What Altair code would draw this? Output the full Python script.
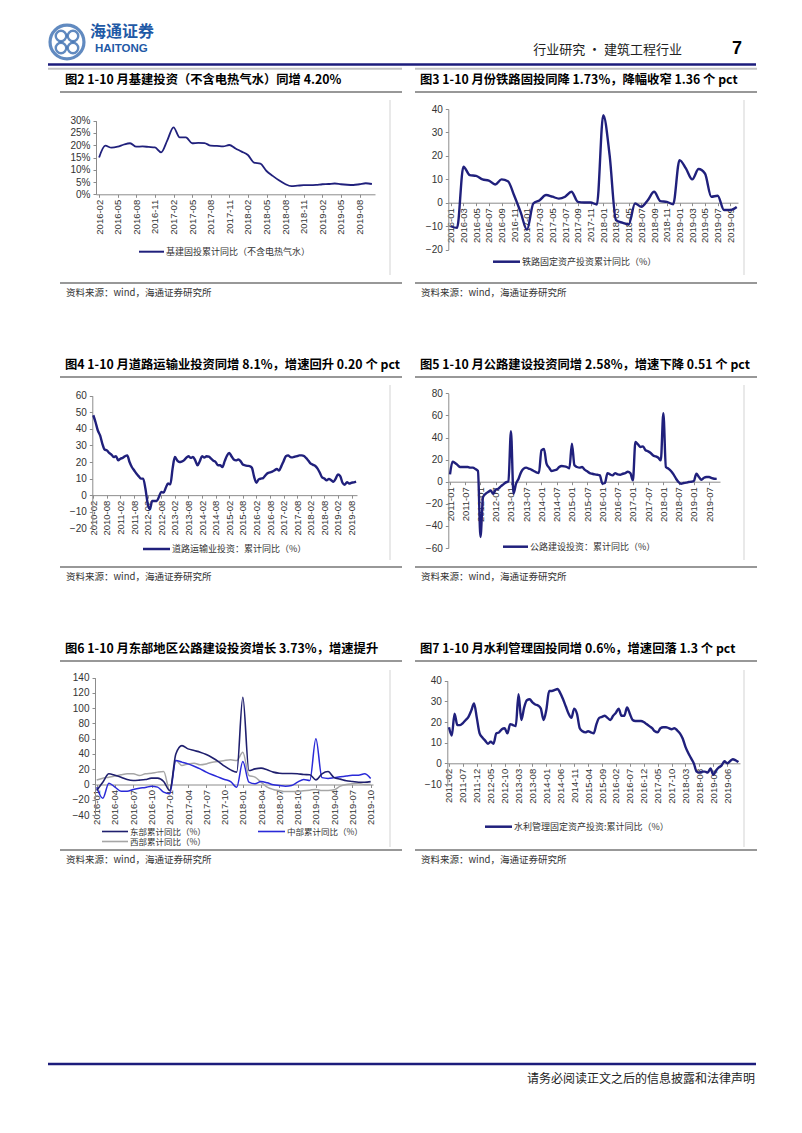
import altair as alt
import pandas as pd

CJK = "Noto Sans CJK SC"
LAT = "Liberation Sans"
NAVY = "#20207c"
BLUE_HDR = "#1c1c7c"
LOGO = "#1f5aa6"
AX = "#8c8c8c"
LB = "#333333"

# ---------------- data ----------------
# Fig 2: infrastructure FAI cumulative YoY (%), monthly from 2016-02
START2 = "2016-02"
VAL2 = [15.0, 19.8, 19.0, 19.4, 20.3, 20.8, 19.4, 19.5, 19.3, 19.1, 17.1, 22.0,
        27.3, 23.2, 23.2, 20.8, 21.0, 20.9, 19.8, 19.7, 19.5, 20.1, 18.7, 17.4,
        16.0, 12.9, 12.5, 9.5, 7.5, 5.7, 4.2, 3.3, 3.5, 3.7, 3.7, 3.8,
        4.1, 4.2, 4.4, 4.1, 3.9, 3.8, 4.1, 4.5, 4.2]
TICKS2 = ["2016-02", "2016-05", "2016-08", "2016-11", "2017-02", "2017-05", "2017-08",
          "2017-11", "2018-02", "2018-05", "2018-08", "2018-11", "2019-02", "2019-05", "2019-08"]
YT2 = [0, 5, 10, 15, 20, 25, 30]

# Fig 3: railway FAI cumulative YoY (%), from 2016-01
START3 = "2016-01"
VAL3 = [-10.0, -10.7, 15.4, 11.8, 11.5, 10.0, 9.5, 7.8, 10.0, 9.2, 3.0, -4.0,
        -11.5, -0.3, 1.1, 3.3, 2.6, 1.8, 2.6, 4.7, 0.4, 0.1, 0.1, -0.7,
        37.4, 20.3, -7.4, -8.5, -9.2, -0.3, -1.7, 1.1, 4.7, 0.7, 0.4, -0.6,
        18.2, 14.7, 10.0, 14.4, 12.5, 2.6, 3.0, -3.1, -3.1, -1.8]
TICKS3 = ["2016-01", "2016-03", "2016-05", "2016-07", "2016-09", "2016-11", "2017-01",
          "2017-03", "2017-05", "2017-07", "2017-09", "2017-11", "2018-01", "2018-03",
          "2018-05", "2018-07", "2018-09", "2018-11", "2019-01", "2019-03", "2019-05",
          "2019-07", "2019-09"]
YT3 = [-20, -10, 0, 10, 20, 30, 40]

# Fig 4: road transport investment cumulative YoY (%), from 2010-02
START4 = "2010-02"
VAL4 = [48.2, 44.0, 39.0, 36.0, 31.0, 27.5, 27.0, 25.5, 24.5, 23.0, 23.5, 21.0,
        22.0, 22.5, 23.5, 24.0, 20.0, 17.0, 15.0, 13.0, 11.5, 10.0, 10.0, 4.0,
        -5.0, -8.5, -3.5, -3.5, -3.5, -1.0, 2.0, 1.5, 4.5, 7.0, 6.5, 16.0,
        23.0, 21.0, 20.0, 20.3, 21.0, 22.5, 23.5, 22.5, 23.0, 21.0, 18.0, 20.5,
        23.5, 22.7, 23.5, 23.2, 22.0, 20.8, 20.0, 18.0, 18.0, 17.0, 20.5, 23.8,
        25.5, 23.5, 21.5, 21.0, 21.5, 20.5, 18.5, 18.0, 17.7, 17.5, 16.5, 11.0,
        7.5, 9.5, 10.0, 10.3, 12.0, 13.3, 13.7, 14.2, 15.0, 15.8, 14.8, 17.5,
        20.5, 23.5, 24.0, 23.0, 22.8, 23.2, 23.6, 24.0, 24.0, 23.6, 22.3, 20.7,
        19.0, 18.3, 17.6, 16.0, 13.5, 10.7, 10.0, 9.0, 9.8, 9.0, 8.0, 10.0,
        12.5, 11.5, 7.5, 6.3, 7.8, 7.0, 7.5, 7.7, 8.1]
TICKS4 = ["2010-02", "2010-08", "2011-02", "2011-08", "2012-02", "2012-08", "2013-02",
          "2013-08", "2014-02", "2014-08", "2015-02", "2015-08", "2016-02", "2016-08",
          "2017-02", "2017-08", "2018-02", "2018-08", "2019-02", "2019-08"]
YT4 = [-20, -10, 0, 10, 20, 30, 40, 50, 60]

# Fig 5: highway construction investment cumulative YoY (%), from 2011-01
START5 = "2011-01"
VAL5 = [6.6, 18.0, 17.0, 15.0, 13.3, 13.3, 13.3, 13.3, 12.7, 12.7, 11.5, 9.7,
        -50.0, -14.0, -11.0, -9.4, -8.0, -11.0, -7.2, -6.3, -4.2, -2.4, -0.6, 0.3,
        45.7, -11.0, -1.8, 2.7, 8.7, 11.8, 12.7, 11.8, 10.9, 9.7, 8.4, 7.8,
        28.4, 29.6, 16.3, 12.7, 9.7, 10.3, 10.9, 13.3, 14.2, 13.9, 13.3, 12.1,
        34.4, 14.8, 13.3, 12.7, 13.3, 10.9, 9.4, 7.8, 7.2, 6.6, 6.3, 5.7,
        -1.8, -1.2, 7.8, 6.6, 5.7, 7.8, 6.6, 6.3, 7.2, 7.8, 9.0, 7.8,
        1.2, 35.9, 33.8, 31.4, 32.0, 28.4, 27.5, 26.0, 23.8, 22.9, 21.7, 19.3,
        62.0, 13.3, 11.8, 9.7, 6.6, 2.7, -0.3, -1.8, -1.2, -0.9, -0.3, 0.0,
        0.6, 7.2, 4.2, 1.8, 3.6, 4.2, 4.2, 3.3, 2.7, 2.58]
TICKS5 = ["2011-01", "2011-07", "2012-01", "2012-07", "2013-01", "2013-07", "2014-01",
          "2014-07", "2015-01", "2015-07", "2016-01", "2016-07", "2017-01", "2017-07",
          "2018-01", "2018-07", "2019-01", "2019-07"]
YT5 = [-60, -40, -20, 0, 20, 40, 60, 80]

# Fig 6: regional highway investment cumulative YoY (%), from 2016-01
START6 = "2016-01"
EAST6 = [-8.0, 3.0, 14.0, 12.0, 9.6, 6.5, 5.2, 5.7, 6.5, 8.3, 8.3, 3.9,
         -8.0, 40.0, 51.0, 46.7, 44.5, 42.4, 39.3, 35.0, 30.0, 24.0, 19.2, 16.2,
         114.4, 18.3, 20.5, 21.4, 19.2, 16.2, 14.8, 14.4, 14.4, 14.0, 13.1, 12.7,
         6.0, 14.0, 17.0, 9.0, 7.0, 5.0, 4.0, 3.0, 3.0, 3.73]
MID6 = [-3.5, -18.0, 1.7, -3.5, -8.7, -8.7, -6.5, -4.8, -3.9, -2.2, -3.5, -10.0,
        -12.0, 31.4, 29.3, 27.0, 24.0, 20.5, 16.2, 12.7, 9.6, 6.6, 3.9, -3.5,
        30.0, 3.0, 0.9, 3.9, 2.2, -0.4, -1.3, -2.2, -1.3, 3.0, 6.5, 5.2,
        60.0, 9.0, 8.0, 9.0, 10.0, 11.0, 12.0, 12.0, 14.0, 8.0]
WEST6 = [6.0, 8.3, 9.6, 11.0, 12.7, 14.0, 14.0, 11.8, 14.0, 14.8, 16.2, 17.0,
         -8.0, 31.4, 25.0, 27.0, 28.0, 25.8, 27.0, 29.3, 30.0, 31.4, 32.3, 31.4,
         42.4, 11.8, 9.6, 3.0, -3.5, -6.5, -7.9, -9.2, -9.2, -9.2, -8.3, -7.4,
         -6.5, -7.9, -7.9, -7.0, -2.2, 0.0, 0.9, 1.7, 0.0, 0.0]
TICKS6 = ["2016-01", "2016-04", "2016-07", "2016-10", "2017-01", "2017-04", "2017-07",
          "2017-10", "2018-01", "2018-04", "2018-07", "2018-10", "2019-01", "2019-04",
          "2019-07", "2019-10"]
YT6 = [-40, -20, 0, 20, 40, 60, 80, 100, 120, 140]

# Fig 7: water conservancy FAI cumulative YoY (%), from 2011-02
START7 = "2011-02"
VAL7 = [17.5, 13.5, 24.0, 18.5, 18.5, 19.5, 21.0, 22.5, 25.5, 29.0, 22.0, 14.5,
        12.5, 11.0, 9.5, 10.5, 9.5, 14.5, 15.0, 16.5, 17.0, 14.5, 19.0, 18.5,
        18.0, 33.5, 21.0, 27.0, 30.5, 31.0, 29.5, 28.5, 28.0, 26.5, 21.0, 26.0,
        35.0, 35.0, 35.5, 36.0, 34.0, 31.0, 27.5, 24.0, 22.0, 26.5, 24.0, 17.0,
        15.5, 15.0, 15.5, 15.0, 14.5, 19.0, 22.0, 22.5, 23.0, 22.0, 21.0, 23.0,
        24.5, 26.5, 23.0, 23.0, 27.0, 24.0, 21.0, 20.5, 20.5, 20.5, 20.0, 19.0,
        18.0, 17.0, 15.5, 15.0, 17.0, 17.5, 17.5, 17.0, 16.5, 17.0, 16.0, 14.5,
        12.0, 8.0, 5.0, 2.5, 0.0, -4.0, -4.5, -4.0, -4.0, -4.5, -2.5, -5.5,
        -3.5, -2.0, -1.0, 1.0, 0.0, 1.0, 2.0, 1.5, 0.6]
TICKS7 = ["2011-02", "2011-07", "2011-12", "2012-05", "2012-10", "2013-03", "2013-08",
          "2014-01", "2014-06", "2014-11", "2015-04", "2015-09", "2016-02", "2016-07",
          "2016-12", "2017-05", "2017-10", "2018-03", "2018-08", "2019-01", "2019-06"]
YT7 = [-10, 0, 10, 20, 30, 40]

TITLES = [
    "图2  1-10 月基建投资（不含电热气水）同增 4.20%",
    "图3  1-10 月份铁路固投同降 1.73%，降幅收窄 1.36 个 pct",
    "图4  1-10 月道路运输业投资同增 8.1%，增速回升 0.20 个 pct",
    "图5  1-10 月公路建设投资同增 2.58%，增速下降 0.51 个 pct",
    "图6  1-10 月东部地区公路建设投资增长 3.73%，增速提升",
    "图7  1-10 月水利管理固投同增 0.6%，增速回落 1.3 个 pct",
]
LEG2 = "基建固投累计同比（不含电热气水）"
LEG3 = "铁路固定资产投资累计同比（%）"
LEG4 = "道路运输业投资：累计同比（%）"
LEG5 = "公路建设投资：累计同比（%）"
LEG6 = ["东部累计同比（%）", "中部累计同比（%）", "西部累计同比（%）"]
LEG7 = "水利管理固定资产投资:累计同比（%）"
SOURCE = "资料来源：wind，海通证券研究所"

# ---------------- helpers ----------------
ONE = alt.Data(values=[{"k": 1}])
LABEL_EXPR = ("floor(datum.value / 12) + '-' + (datum.value % 12 < 9 ? '0' : '') "
              "+ (datum.value % 12 + 1)")


def mi(s):
    y, m = s.split("-")
    return int(y) * 12 + int(m) - 1


def series(start, values):
    t0 = mi(start)
    return pd.DataFrame({"t": [t0 + i for i in range(len(values))], "v": values})


def T(s, x, y, size, color="#000000", weight="normal", font=CJK, align="left"):
    return alt.Chart(ONE).mark_text(
        text=s, fontSize=size, color=color, fontWeight=weight, font=font,
        align=align, baseline="middle").encode(x=alt.value(x), y=alt.value(y))


def H(x1, x2, y, color, w):
    return alt.Chart(ONE).mark_rule(color=color, strokeWidth=w).encode(
        x=alt.value(x1), x2=alt.value(x2), y=alt.value(y))


def V(x, y1, y2, color, w):
    return alt.Chart(ONE).mark_rule(color=color, strokeWidth=w).encode(
        x=alt.value(x), y=alt.value(y1), y2=alt.value(y2))


def XE(start, lo, hi, r0, r1, ticks, off):
    t0 = mi(start)
    return alt.X("t:Q",
                 scale=alt.Scale(domain=[t0 + lo, t0 + hi], range=[r0, r1], nice=False, zero=False),
                 axis=alt.Axis(values=[mi(s) for s in ticks], labelExpr=LABEL_EXPR,
                               labelAngle=270, labelAlign="right", labelBaseline="middle",
                               labelOverlap=False, labelFlush=False, orient="bottom",
                               offset=off, title=None, tickSize=3, labelPadding=2,
                               domainColor=AX, tickColor=AX, labelColor=LB,
                               labelFont=LAT, labelFontSize=9.5, grid=False))


def YE(dom, rb, rt, ticks, off, expr=None):
    kw = dict(values=ticks, orient="left", offset=off, title=None, tickSize=3,
              labelPadding=3, domainColor=AX, tickColor=AX, labelColor=LB,
              labelFont=LAT, labelFontSize=10, grid=False, labelOverlap=False,
              labelFlush=False)
    if expr:
        kw["labelExpr"] = expr
    return alt.Y("v:Q", scale=alt.Scale(domain=dom, range=[rb, rt], nice=False, zero=False),
                 axis=alt.Axis(**kw))


def line(df, x, y, color=NAVY, sw=2.2):
    return alt.Chart(df).mark_line(color=color, strokeWidth=sw, interpolate="monotone").encode(x=x, y=y)


def frame(left, title, dy, src_line_y, border_y1, border_y2):
    if left:
        tx, ux1, ux2, bx = 57, 52, 394, 382
    else:
        tx, ux1, ux2, bx = 19, 14, 356, 343
    return [
        T(title, tx, dy + 8, 12.3, "#000000", "bold"),
        H(ux1, ux2, dy + 20, "#333333", 1.2),
        V(bx, dy + border_y1, dy + border_y2, "#e2e2e2", 1.5),
        H(ux1, ux2, dy + src_line_y, "#333333", 1.2),
        T(SOURCE, tx + 1, dy + src_line_y + 10, 9.5, "#333333"),
    ]


def legend(x1, x2, y, text, color=NAVY, w=2.5, size=9):
    return [H(x1, x2, y, color, w), T(text, x2 + 2, y, size, "#333333")]


def ring(x, y, size, sw):
    return alt.Chart(ONE).mark_point(shape="circle", filled=False, size=size, strokeWidth=sw,
                                     color=LOGO).encode(x=alt.value(x), y=alt.value(y))


W = 393
HD = 64            # header band height (inside row-1 panels)
H1 = HD + 285      # row 1 panel height incl. header
H2 = 284
H3 = 484           # row 3 panel height incl. footer band

# ---------------- header (drawn in the first panel, may run across) ----------------
header_layers = [
    ring(59, 34, 1150, 3.2),
    ring(53, 28, 110, 2.4), ring(65, 28, 110, 2.4),
    ring(53, 40, 110, 2.4), ring(65, 40, 110, 2.4),
    T("海通证券", 82, 24, 16, LOGO, "bold"),
    T("HAITONG", 87, 41, 11.5, LOGO, "bold", LAT),
    T("行业研究 · 建筑工程行业", 674, 42, 13, "#222222", "normal", CJK, "right"),
    T("7", 729, 41, 18, "#000000", "bold", LAT, "center"),
    H(40, 748, 56.5, BLUE_HDR, 2.5),
    H(40, 394, 60.8, "#c4c4c4", 2),
    H(407, 749, 60.8, "#c4c4c4", 2),
]

# ---------------- row 1 ----------------
d = HD
x2 = XE(START2, -0.5, 44.5, 88, 367, TICKS2, d + 122.3 - H1)
y2 = YE([0, 30], d + 122.3, d + 48.7, YT2, -88, "datum.value + '%'")
p2 = alt.layer(
    line(series(START2, VAL2), x2, y2, sw=1.8),
    *legend(131, 156, d + 179.7, LEG2, w=2),
    *frame(True, TITLES[0], d, 211, 28, 203),
    *header_layers,
).properties(width=W, height=H1)

x3 = XE(START3, -0.38, 45.2, 47.3, 337, TICKS3, d + 130.7 - H1)
y3 = YE([-20, 40], d + 177.7, d + 37, YT3, -47.3)
p3 = alt.layer(
    line(series(START3, VAL3), x3, y3, sw=2.4),
    *legend(92, 119, d + 189.7, LEG3),
    *frame(False, TITLES[1], d, 211, 28, 203),
).properties(width=W, height=H1)

# ---------------- row 2 ----------------
x4 = XE(START4, -0.44, 116.4, 84.3, 349, TICKS4, 138.15 - H2)
y4 = YE([-20, 60], 171.3, 38.7, YT4, -84.3)
p4 = alt.layer(
    line(series(START4, VAL4), x4, y4, sw=2.4),
    *legend(135, 162, 192, LEG4),
    *frame(True, TITLES[2], 0, 210, 28, 203),
).properties(width=W, height=H2)

x5 = XE(START5, -0.67, 106.3, 47.3, 319, TICKS5, 124.7 - H2)
y5 = YE([-60, 80], 191, 36.3, YT5, -47.3)
p5 = alt.layer(
    line(series(START5, VAL5), x5, y5, sw=2.4),
    *legend(102, 127, 189.7, LEG5),
    *frame(False, TITLES[3], 0, 210, 28, 203),
).properties(width=W, height=H2)

# ---------------- row 3 (+ footer) ----------------
x6 = XE(START6, -0.28, 45.38, 87, 365, TICKS6, 143.5 - H3)
y6 = YE([-40, 140], 174, 36.7, YT6, -87)
p6 = alt.layer(
    line(series(START6, WEST6), x6, y6, color="#a6a6a6", sw=1.5),
    line(series(START6, MID6), x6, y6, color="#2a2ad8", sw=1.5),
    line(series(START6, EAST6), x6, y6, color="#1f1f6e", sw=1.6),
    *legend(94, 120, 190.5, LEG6[0], "#1f1f6e", 1.6, 8.5),
    *legend(250, 277, 190.5, LEG6[1], "#2a2ad8", 1.6, 8.5),
    *legend(94, 120, 200.5, LEG6[2], "#a6a6a6", 1.6, 8.5),
    *frame(True, TITLES[4], 0, 209, 29, 206),
    H(40, 748, 423, BLUE_HDR, 2.5),
    T("请务必阅读正文之后的信息披露和法律声明", 747, 438, 12, "#222222", "normal", CJK, "right"),
).properties(width=W, height=H3)

x7 = XE(START7, -0.61, 104.6, 46.3, 339, TICKS7, 122.3 - H3)
y7 = YE([-10, 40], 143, 39.7, YT7, -46.3)
p7 = alt.layer(
    line(series(START7, VAL7), x7, y7, sw=2.4),
    *legend(84, 111, 185.7, LEG7),
    *frame(False, TITLES[5], 0, 209, 29, 206),
).properties(width=W, height=H3)

chart = alt.concat(p2, p3, p4, p5, p6, p7, columns=2, spacing=0, bounds="flush").properties(
    padding=0, background="white"
).configure_view(stroke=None)

chart.save("out.html", embed_options={"renderer": "svg", "actions": False})
